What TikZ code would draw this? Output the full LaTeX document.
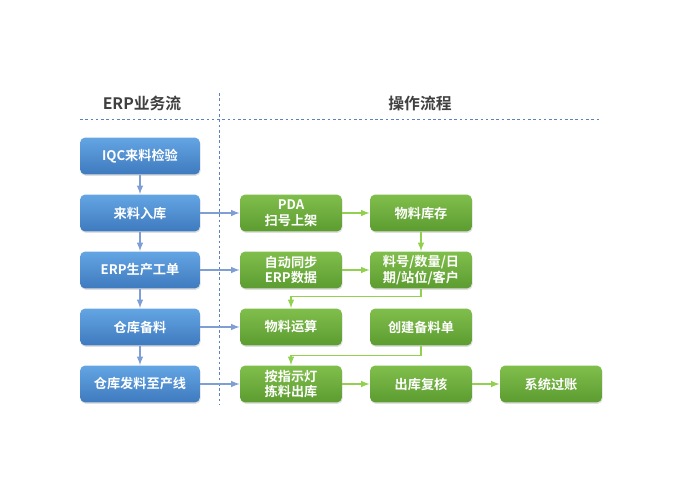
\documentclass[tikz,border=0pt]{standalone}
\usepackage{fontspec}
\setmainfont{Noto Sans CJK SC}[BoldFont={* Bold}]
\usetikzlibrary{shadows}
\definecolor{erpblue}{RGB}{74,140,210}
\definecolor{erptop}{RGB}{100,165,228}
\definecolor{erpbot}{RGB}{62,122,190}
\definecolor{optop}{RGB}{128,190,76}
\definecolor{opbot}{RGB}{92,156,48}
\definecolor{linkblue}{RGB}{128,158,214}
\definecolor{linkgreen}{RGB}{146,208,80}
\definecolor{headgray}{RGB}{64,64,64}
\definecolor{sepblue}{RGB}{90,130,190}
\begin{document}
\begin{tikzpicture}[x=0.02cm, y=-0.02cm,
    erpbox/.style={rounded corners=3pt, top color=erptop, bottom color=erpbot,
        draw=none, text=white, font=\fontsize{7.5}{9}\selectfont\bfseries,
        minimum width=2.4cm, minimum height=0.74cm, align=center, inner sep=1pt,
        drop shadow={opacity=0.25, shadow xshift=0.4pt, shadow yshift=-0.8pt}},
    opbox/.style={erpbox, top color=optop, bottom color=opbot, minimum width=2.04cm},
    erplink/.style={->, >=latex, linkblue, line width=0.7pt},
    oplink/.style={->, >=latex, linkgreen, line width=0.7pt},
    sep/.style={sepblue, line width=0.5pt, dash pattern=on 1.5pt off 1.5pt},
    heading/.style={text=headgray, font=\fontsize{9}{11}\selectfont\bfseries}]
    \useasboundingbox (0,0) rectangle (700,500);
    % Headings and separators
    \node [heading] (herp) at (142,103) {ERP业务流};
    \node [heading] (hop) at (420,103) {操作流程};
    \draw [sep] (80,119) -- (600,119);
    \draw [sep] (219,93) -- (219,405);
    % ERP column
    \node [erpbox] (iqc) at (140,156) {IQC来料检验};
    \node [erpbox] (inbound) at (140,213) {来料入库};
    \node [erpbox] (order) at (140,270) {ERP生产工单};
    \node [erpbox] (prep) at (140,327) {仓库备料};
    \node [erpbox] (issue) at (140,384) {仓库发料至产线};
    % Operation boxes
    \node [opbox] (pda) at (291,213) {PDA\\扫号上架};
    \node [opbox] (stock) at (421,213) {物料库存};
    \node [opbox] (sync) at (291,270) {自动同步\\ERP数据};
    \node [opbox] (info) at (421,270) {料号/数量/日\\期/站位/客户};
    \node [opbox] (calc) at (291,327) {物料运算};
    \node [opbox] (bill) at (421,327) {创建备料单};
    \node [opbox] (pick) at (291,384) {按指示灯\\拣料出库};
    \node [opbox] (check) at (421,384) {出库复核};
    \node [opbox] (post) at (551,384) {系统过账};
    % ERP flow
    \draw [erplink] (iqc) -- (inbound);
    \draw [erplink] (inbound) -- (order);
    \draw [erplink] (order) -- (prep);
    \draw [erplink] (prep) -- (issue);
    \draw [erplink] (inbound) -- (pda);
    \draw [erplink] (order) -- (sync);
    \draw [erplink] (prep) -- (calc);
    \draw [erplink] (issue) -- (pick);
    % Operation flow
    \draw [oplink] (pda) -- (stock);
    \draw [oplink] (stock) -- (info);
    \draw [oplink] (sync) -- (info);
    \draw [oplink] (info.south) -- ++(0,8) -| (calc.north);
    \draw [oplink] (bill.south) -- ++(0,10) -| (pick.north);
    \draw [oplink] (pick) -- (check);
    \draw [oplink] (check) -- (post);
\end{tikzpicture}
\end{document}
